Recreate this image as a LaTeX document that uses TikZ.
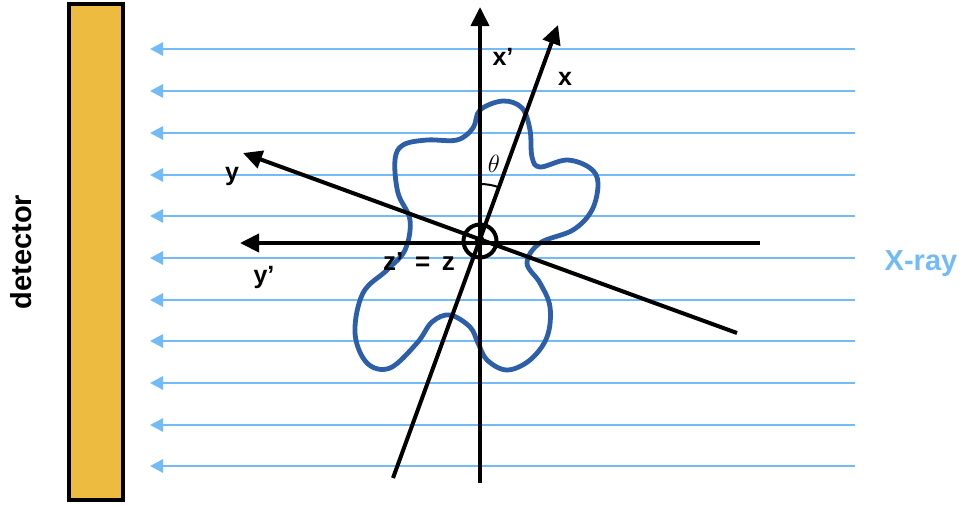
\documentclass[tikz,border=0pt]{standalone}
\usepackage{fontspec}
\setmainfont{Liberation Sans}
\usetikzlibrary{arrows.meta}
\definecolor{ray}{HTML}{72BBF7}
\definecolor{blobc}{HTML}{2D5EA8}
\definecolor{detc}{HTML}{EDBB40}
\begin{document}
\begin{tikzpicture}[x=1pt,y=-1pt,
  raystyle/.style={draw=ray, line width=2.8pt, -{Triangle[length=13pt,width=13pt]}},
  axisstyle/.style={draw=black, line width=4pt, -{Triangle[length=19pt,width=18pt]}},
  lbl/.style={font=\bfseries\fontsize{25}{25}\selectfont, inner sep=0pt, anchor=base},
  big/.style={font=\bfseries\fontsize{29}{29}\selectfont, inner sep=0pt}]
\useasboundingbox (0,0) rectangle (963,504);
% detector
\node[draw=black, line width=4pt, fill=detc, minimum width=54pt, minimum height=496pt, inner sep=0pt] (det) at (96,252) {};
\node[big, rotate=90] (detlabel) at (21,252) {detector};
% rays
\foreach \i/\yy in {1/49,2/91,3/133,4/175,5/216,6/258,7/300,8/341,9/383,10/425,11/466}{
  \coordinate (rs\i) at (855,\yy);
  \coordinate (re\i) at (150,\yy);
  \draw[raystyle] (rs\i) -- (re\i);
}
\node[big, text=ray, anchor=base] (xray) at (921,270) {X-ray};
% object
\draw[blobc, line width=4.8pt] plot[smooth cycle, tension=0.6] coordinates {
 (503,101) (522,108) (530,130) (532,157) (540,167) (567,160) (590,168) (598,183)
 (592,210) (573,230) (540,243) (527,263) (540,283) (550,307) (547,337) (530,360)
 (507,370) (487,360) (478,343) (470,327) (450,315) (432,322) (417,343) (390,368)
 (367,363) (355,333) (363,293) (387,270) (405,250) (410,220) (398,193) (395,160)
 (403,145) (427,140) (457,140) (473,128) (480,110)};
% axes
\coordinate (O) at (480,241);
\coordinate (ypE) at (760,243);
\coordinate (ypT) at (240,243);
\coordinate (xpE) at (480,483);
\coordinate (xpT) at (480,7);
\coordinate (xE) at (393,478);
\coordinate (xT) at (558,25);
\coordinate (yE) at (737,333);
\coordinate (yT) at (243,153);
\draw[axisstyle] (ypE) -- (ypT);
\draw[axisstyle] (xpE) -- (xpT);
\draw[axisstyle] (xE) -- (xT);
\draw[axisstyle] (yE) -- (yT);
\node[draw=black, line width=4pt, circle, minimum size=33pt, inner sep=0pt] (zc) at (O) {};
\node[fill=black, circle, minimum size=10pt, inner sep=0pt] (zd) at (O) {};
% angle
\draw[line width=2pt] (480,184) arc[start angle=-90, end angle=-70, radius=57];
\node[inner sep=0pt, font=\fontsize{26}{26}\selectfont] (th) at (494,164) {$\theta$};
% labels
\node[lbl] (lxp) at (503,65) {x’};
\node[lbl] (lx) at (565,85) {x};
\node[lbl] (ly) at (232,180) {y};
\node[lbl] (lyp) at (264,283) {y’};
\node[lbl, font=\bfseries\fontsize{26}{26}\selectfont] (lz) at (419,270) {z’\hspace{0.45em}=\hspace{0.45em}z};
\end{tikzpicture}
\end{document}
